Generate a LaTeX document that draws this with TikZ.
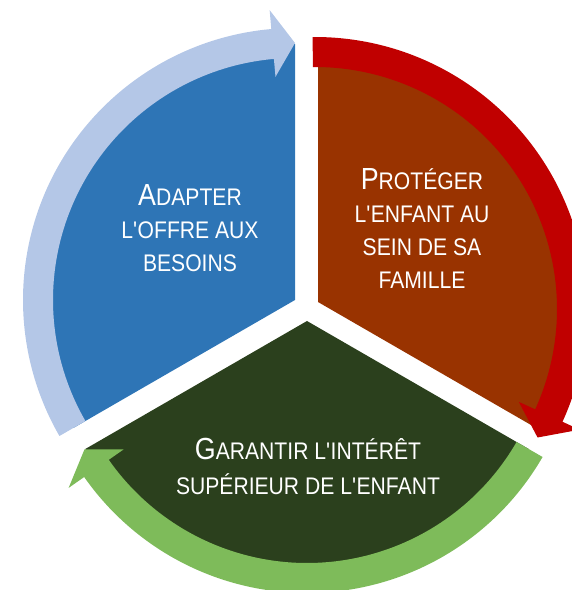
\documentclass[tikz,border=0pt]{standalone}
\usepackage{xcolor}
\usepackage{tikz}
\usepackage{fontspec}
\usetikzlibrary{positioning}
\newfontfamily\narrowsans{Liberation Sans}[FakeStretch=0.88]
\definecolor{blueseg}{HTML}{2E75B6}
\definecolor{bluearr}{HTML}{B4C7E7}
\definecolor{brownseg}{HTML}{993300}
\definecolor{redarr}{HTML}{C00000}
\definecolor{greenseg}{HTML}{2B401D}
\definecolor{greenarr}{HTML}{7EBB5A}
\newcommand{\initcap}[1]{{\fontsize{30.5}{33}\selectfont #1}}
\newcommand{\apos}{\textquotesingle}
% centre, tail angle, base angle, tip angle, colour
\newcommand{\cyclearrow}[5]{%
  \fill[#5, shift={(#1)}] (#2:272) arc[start angle=#2, end angle=#3, radius=272]
    -- (#3:291) -- (#4:257) -- (#3:224) -- (#3:242)
    arc[start angle=#3, end angle=#2, radius=242] -- cycle;}

\begin{document}
\begin{tikzpicture}[x=1pt, y=1pt]
        \useasboundingbox (0,0) rectangle (572,590);
        \clip (0,0) rectangle (572,590);
        \coordinate (bc) at (295,290);
        \coordinate (rc) at (318,288);
        \coordinate (gc) at (307,269);
        \coordinate (ra) at (315,281);
        \fill[blueseg] (bc) -- ++(90:256) arc[start angle=90, end angle=210, radius=256] -- cycle;
        \fill[brownseg] (rc) -- ++(-30:256) arc[start angle=-30, end angle=90, radius=256] -- cycle;
        \fill[greenseg] (gc) -- ++(210:256) arc[start angle=210, end angle=330, radius=256] -- cycle;
        \cyclearrow{bc}{210}{95}{90}{bluearr}
        \cyclearrow{ra}{90.5}{-24.5}{-30}{redarr}
        \cyclearrow{gc}{-30}{-145}{-150}{greenarr}
        \begin{scope}[every node/.style={text=white, align=center, inner sep=0pt,
            font=\narrowsans\fontsize{24}{33}\selectfont}]
          \node (adapt) at (190,362) {\initcap{A}DAPTER\\L\apos OFFRE AUX\\BESOINS};
          \node (protect) at (422,361) {\initcap{P}ROTÉGER\\L\apos ENFANT AU\\SEIN DE SA\\FAMILLE};
          \node[font=\narrowsans\fontsize{24}{35}\selectfont] (garant) at (308,124)
            {\initcap{G}ARANTIR L\apos INTÉRÊT\\SUPÉRIEUR DE L\apos ENFANT};
        \end{scope}
      \end{tikzpicture}
\end{document}
